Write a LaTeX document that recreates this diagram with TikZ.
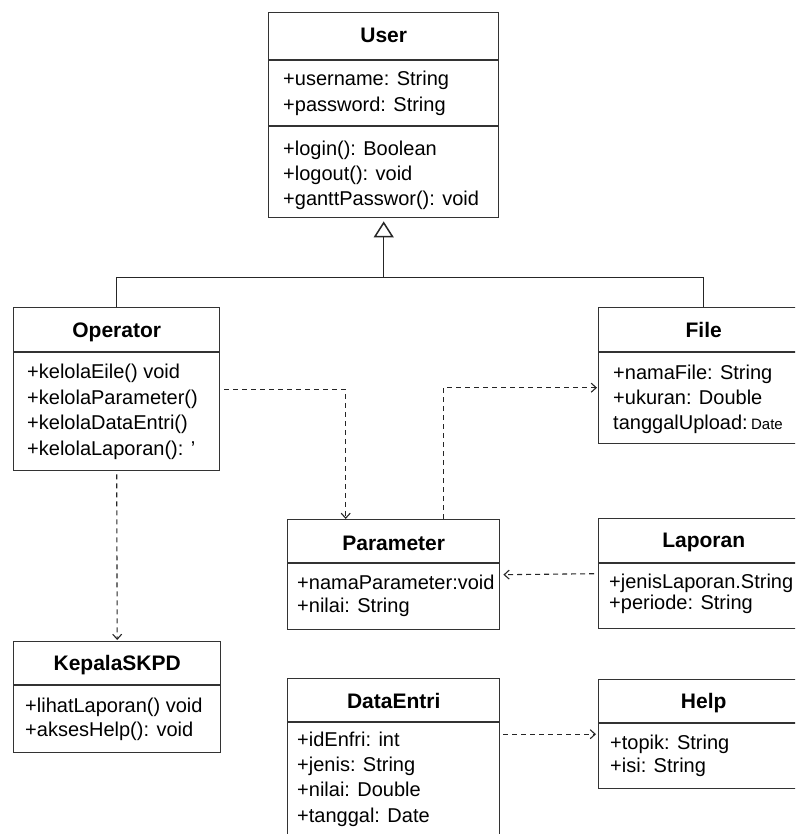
\documentclass[tikz,border=0pt]{standalone}
\usepackage{fontspec}
\setmainfont{Liberation Sans}
\usetikzlibrary{arrows.meta}

\begin{document}
\begin{tikzpicture}[
        x=1pt, y=-1pt,
        kelas/.style={draw=black!80, line width=1.4pt, anchor=north west, inner sep=0pt},
        garis/.style={black!80, line width=1.4pt},
        judul/.style={anchor=base, font=\fontsize{21}{25}\selectfont\bfseries, inner sep=0pt},
        isi/.style={anchor=base west, font=\fontsize{20}{25}\selectfont, inner sep=0pt},
        pakai/.style={black!85, line width=1.1pt, dash pattern=on 5pt off 4pt,
                      -{Straight Barb[length=5pt,width=9pt]}},
        turunan/.style={black!85, line width=1.5pt}
    ]
    \useasboundingbox (0,0) rectangle (795,834);
    \clip (0,0) rectangle (795,834);

    % Kelas User
    \node[kelas, minimum width=230pt, minimum height=205pt] (user) at (268,12) {};
    \node[judul] (user-judul) at ([yshift=-31pt]user.north) {User};
    \draw[garis] ([yshift=-48pt]user.north west) -- ([yshift=-48pt]user.north east);
    \draw[garis] ([yshift=-114pt]user.north west) -- ([yshift=-114pt]user.north east);
    \foreach \teks [count=\i] in {+username: String, +password: String}
        \node[isi] (user-atr\i) at ([xshift=15pt, yshift={-(48+26*\i)*1pt}]user.north west) {\teks};
    \foreach \teks [count=\i] in {+login(): Boolean, +logout(): void, +ganttPasswor(): void}
        \node[isi] (user-met\i) at ([xshift=15pt, yshift={-(119+25*\i)*1pt}]user.north west) {\teks};

    % Kelas Operator
    \node[kelas, minimum width=206pt, minimum height=163pt] (operator) at (13,307) {};
    \node[judul] (operator-judul) at ([yshift=-30pt]operator.north) {Operator};
    \draw[garis] ([yshift=-45pt]operator.north west) -- ([yshift=-45pt]operator.north east);
    \foreach \teks [count=\i] in {+kelolaEile() void, +kelolaParameter(), +kelolaDataEntri(), +kelolaLaporan(): '}
        \node[isi] (operator-met\i) at ([xshift=14pt, yshift={-(46+25.5*\i)*1pt}]operator.north west) {\teks};

    % Kelas File
    \node[kelas, minimum width=210pt, minimum height=136pt] (file) at (598,307) {};
    \node[judul] (file-judul) at ([yshift=-30pt]file.north) {File};
    \draw[garis] ([yshift=-45pt]file.north west) -- ([yshift=-45pt]file.north east);
    \foreach \teks [count=\i] in {+namaFile: String, +ukuran: Double,
                                  {tanggalUpload:\,{\fontsize{15}{15}\selectfont Date}}}
        \node[isi] (file-atr\i) at ([xshift=15pt, yshift={-(47+25*\i)*1pt}]file.north west) {\teks};

    % Kelas Parameter
    \node[kelas, minimum width=212pt, minimum height=110pt] (parameter) at (287,519) {};
    \node[judul] (parameter-judul) at ([yshift=-31pt]parameter.north) {Parameter};
    \draw[garis] ([yshift=-44pt]parameter.north west) -- ([yshift=-44pt]parameter.north east);
    \foreach \teks [count=\i] in {+namaParameter:void, +nilai: String}
        \node[isi] (parameter-atr\i) at ([xshift=10pt, yshift={-(47+23*\i)*1pt}]parameter.north west) {\teks};

    % Kelas Laporan
    \node[kelas, minimum width=210pt, minimum height=110pt] (laporan) at (598,518) {};
    \node[judul] (laporan-judul) at ([yshift=-29pt]laporan.north) {Laporan};
    \draw[garis] ([yshift=-45pt]laporan.north west) -- ([yshift=-45pt]laporan.north east);
    \foreach \teks [count=\i] in {+jenisLaporan.String, +periode: String}
        \node[isi] (laporan-atr\i) at ([xshift=11pt, yshift={-(49+21*\i)*1pt}]laporan.north west) {\teks};

    % Kelas KepalaSKPD
    \node[kelas, minimum width=207pt, minimum height=111pt] (kepala) at (13,641) {};
    \node[judul] (kepala-judul) at ([yshift=-29pt]kepala.north) {KepalaSKPD};
    \draw[garis] ([yshift=-44pt]kepala.north west) -- ([yshift=-44pt]kepala.north east);
    \foreach \teks [count=\i] in {+lihatLaporan() void, +aksesHelp(): void}
        \node[isi] (kepala-met\i) at ([xshift=12pt, yshift={-(47+24*\i)*1pt}]kepala.north west) {\teks};

    % Kelas DataEntri
    \node[kelas, minimum width=212pt, minimum height=170pt] (dataentri) at (287,678) {};
    \node[judul] (dataentri-judul) at ([yshift=-30pt]dataentri.north) {DataEntri};
    \draw[garis] ([yshift=-44pt]dataentri.north west) -- ([yshift=-44pt]dataentri.north east);
    \foreach \teks [count=\i] in {+idEnfri: int, +jenis: String, +nilai: Double, +tanggal: Date}
        \node[isi] (dataentri-atr\i) at ([xshift=10pt, yshift={-(43+25.3*\i)*1pt}]dataentri.north west) {\teks};

    % Kelas Help
    \node[kelas, minimum width=210pt, minimum height=109pt] (help) at (598,679) {};
    \node[judul] (help-judul) at ([yshift=-29pt]help.north) {Help};
    \draw[garis] ([yshift=-44pt]help.north west) -- ([yshift=-44pt]help.north east);
    \foreach \teks [count=\i] in {+topik: String, +isi: String}
        \node[isi] (help-atr\i) at ([xshift=12pt, yshift={-(47+23*\i)*1pt}]help.north west) {\teks};

    % Pewarisan dari User
    \coordinate (cabang) at ([yshift=-59pt]user.south);
    \draw[turunan] (operator.north) |- (cabang) -| (file.north);
    \draw[turunan, -{Triangle[open, length=16pt, width=20pt]}, shorten >=3pt] (cabang) -- (user.south);

    % Ketergantungan
    \draw[pakai] ([xshift=4pt]operator.east) -| ([xshift=-48pt]parameter.north);
    \draw[pakai] ([xshift=50pt]parameter.north) |- ([yshift=-12pt, xshift=-1pt]file.west);
    \draw[pakai] ([xshift=-4pt]laporan.west) -- ([xshift=3pt]parameter.east);
    \draw[pakai] ([xshift=3pt]dataentri.east |- help.west) -- ([xshift=-2pt]help.west);
    \draw[pakai] ([yshift=-3pt]operator.south) -- ([yshift=1pt]kepala.north);

\end{tikzpicture}
\end{document}
